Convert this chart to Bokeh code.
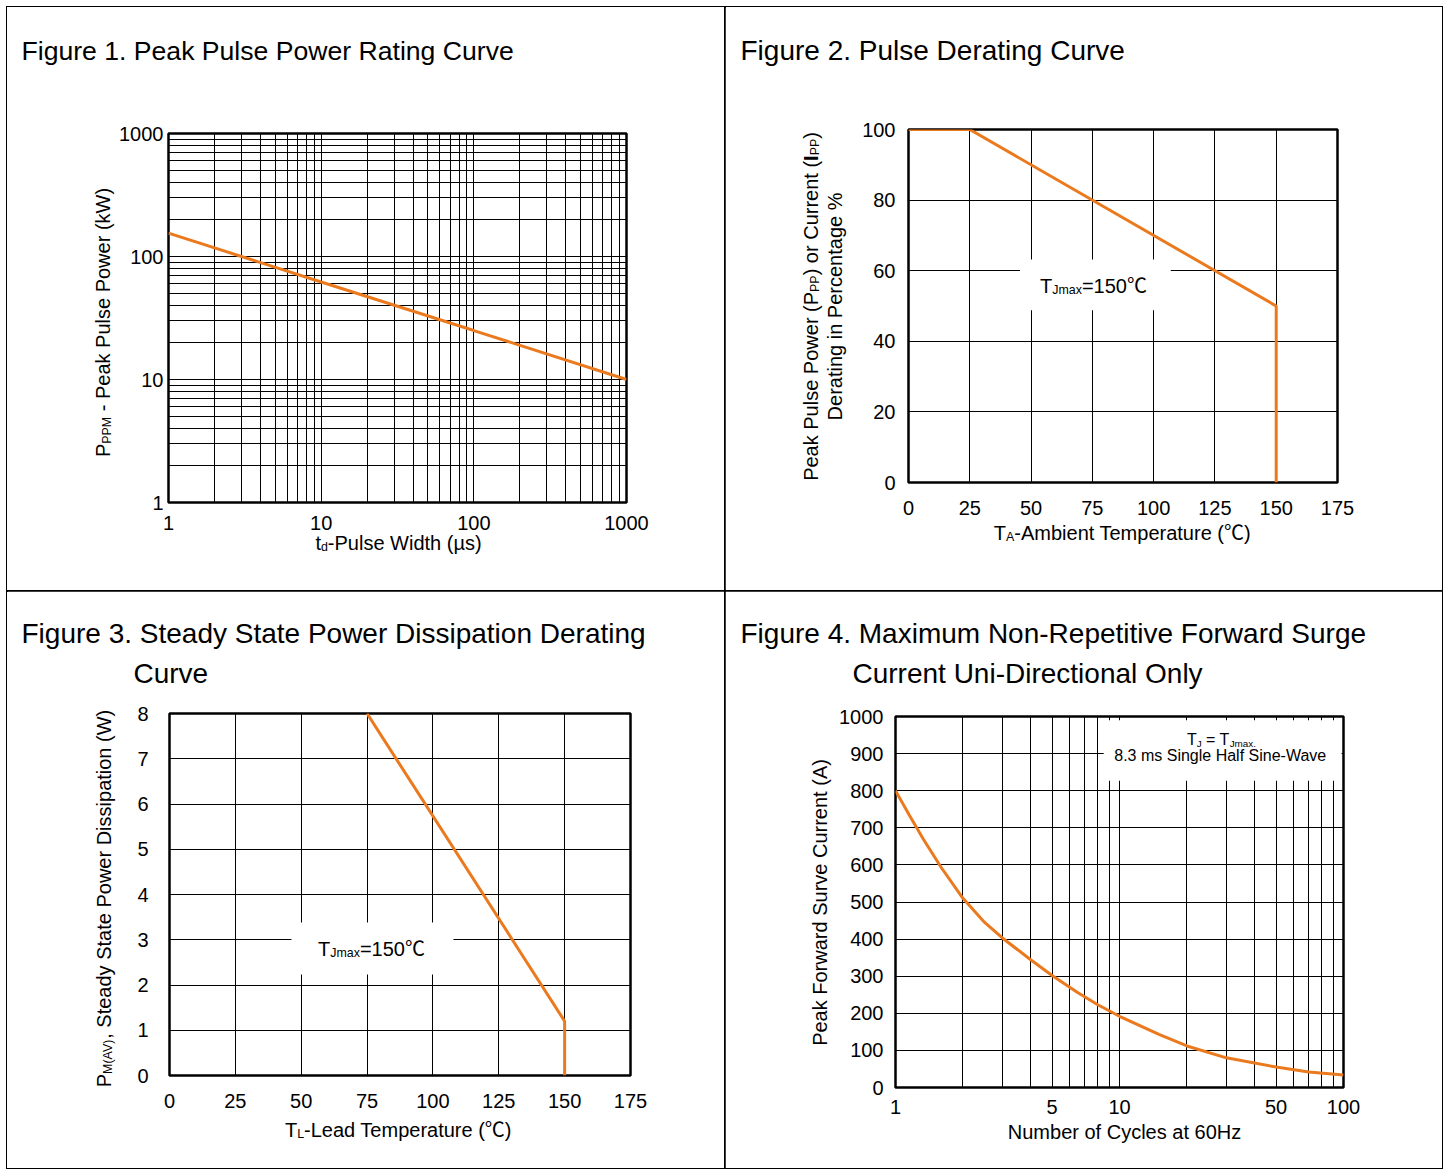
import math
from bokeh.plotting import figure
from bokeh.models import Range1d, FixedTicker, Label, NumeralTickFormatter, BoxAnnotation
from bokeh.layouts import column, row
from bokeh.embed import file_html
from bokeh.resources import INLINE

# ---------------- data ----------------
f1_pulse_width_us = [1, 10, 100, 1000]
f1_peak_power_kw = [155, 62, 25, 10]
f1_ticks = [1, 10, 100, 1000]

f2_temp_c = [0, 25, 150, 150]
f2_derating_pct = [100, 100, 50, 0]
f2_xticks = [0, 25, 50, 75, 100, 125, 150, 175]
f2_yticks = [0, 20, 40, 60, 80, 100]

f3_temp_c = [75, 150, 150]
f3_power_w = [8, 1.2, 0]
f3_xticks = [0, 25, 50, 75, 100, 125, 150, 175]
f3_yticks = [0, 1, 2, 3, 4, 5, 6, 7, 8]

f4_cycles = [1, 1.15, 1.33, 1.6, 2, 2.5, 3, 4, 5, 6.5, 8, 10, 15, 20, 30, 50, 70, 100]
f4_current_a = [800, 735, 670, 593, 510, 445, 403, 345, 302, 256, 223, 192, 143, 112, 80, 55, 42, 34]
f4_xticks = [1, 5, 10, 50, 100]
f4_yticks = [0, 100, 200, 300, 400, 500, 600, 700, 800, 900, 1000]

FONT = "Liberation Sans"
ORANGE = "#EB7A1E"

# Arial / Liberation Sans advance widths (per 1000 em)
CW = {}
CW.update({c: w for c, w in zip("ABCDEFGHIJKLMNOPQRSTUVWXYZ",
          [667, 667, 722, 722, 667, 611, 778, 722, 278, 500, 667, 556, 833, 722, 778, 667, 778, 722, 667, 611, 722, 667, 944, 667, 667, 611])})
CW.update({c: w for c, w in zip("abcdefghijklmnopqrstuvwxyz",
          [556, 556, 500, 556, 556, 278, 556, 556, 222, 222, 500, 222, 833, 556, 556, 556, 556, 333, 500, 278, 556, 500, 722, 500, 500, 500])})
CW.update({d: 556 for d in "0123456789"})
CW.update({" ": 278, "(": 333, ")": 333, "-": 333, ".": 278, ",": 278, "=": 584, "%": 889, "µ": 576, "℃": 1000})


def tw(s, size):
    return sum(CW.get(c, 556) for c in s) * size / 1000.0


def rich(p, origin, fx, fy, pieces, size, vertical=False, align="center"):
    """Place text pieces (n=normal, s=subscript, b=bold); (fx, fy) = baseline anchor in cell px."""
    ox, oy = origin
    sub = 0.62
    fix = 7.0 * size / 20.0
    sizes = [size * sub if st == "s" else size for _, st in pieces]
    total = sum(tw(t, s) for (t, _), s in zip(pieces, sizes))
    start = -total / 2.0 if align == "center" else 0.0
    acc = 0.0
    for (t, st), s in zip(pieces, sizes):
        shift = size * 0.2 if st == "s" else 0.0
        lead = tw(t[:len(t) - len(t.lstrip())], s)
        txt = t.strip()
        if not vertical:
            sx = fx + start + acc + lead
            sy = fy + shift - fix
            ang = 0.0
        else:
            sx = fx + shift - fix
            sy = fy - start - acc - lead
            ang = math.pi / 2
        font = FONT if "℃" not in t else FONT + ", Noto Sans CJK SC"
        p.add_layout(Label(x=ox + sx, y=oy + sy, x_units="canvas", y_units="canvas", text=txt,
                           angle=ang, text_font=font,
                           text_font_size="%.1fpx" % s,
                           text_font_style="bold" if st == "b" else "normal",
                           text_align="left", text_baseline="alphabetic", text_color="black"))
        acc += tw(t, s)


def make(w, h, FL, FR, FT, FB, xr, yr, xtype="linear", ytype="linear"):
    p = figure(width=w, height=h, x_range=Range1d(*xr), y_range=Range1d(*yr),
               x_axis_type=xtype, y_axis_type=ytype, title=None,
               output_backend="svg", toolbar_location=None,
               min_border_left=FL, min_border_right=w - FR, min_border_top=FT, min_border_bottom=h - FB,
               background_fill_color="white", border_fill_color="white")
    p.outline_line_color = "black"
    p.outline_line_width = 2.5
    for ax in (p.xaxis[0], p.yaxis[0]):
        ax.axis_line_color = None
        ax.major_tick_line_color = None
        ax.minor_tick_line_color = None
        ax.major_tick_out = 0
        ax.major_tick_in = 0
        ax.minor_tick_out = 0
        ax.minor_tick_in = 0
        ax.major_label_text_font = FONT
        ax.major_label_text_font_size = "20px"
        ax.major_label_text_color = "black"
    p.grid.grid_line_color = "black"
    p.grid.grid_line_width = 1
    p.grid.grid_line_alpha = 1
    p.styles = {"outline": "1px solid black"}
    return p


LW, RW = 718, 717
TH, BH = 584, 577
C1, C2, C3, C4 = (0, 0), (LW, 0), (0, TH), (LW, TH)

# transparent text layer laid over all four cells (its frame is the whole canvas)
T = figure(width=LW + RW, height=TH + BH, x_range=Range1d(0, LW + RW), y_range=Range1d(0, TH + BH),
           x_axis_type=None, y_axis_type=None, title=None, toolbar_location=None,
           output_backend="svg", min_border=0, margin=(-(TH + BH), 0, 0, 0),
           background_fill_color=None, border_fill_color=None, outline_line_color=None)

# ---------------- Figure 1 ----------------
p1 = make(LW, TH, 161, 619, 126, 495, (1, 1000), (1, 1000), "log", "log")
p1.xaxis.ticker = FixedTicker(ticks=f1_ticks)
p1.yaxis.ticker = FixedTicker(ticks=f1_ticks)
p1.xaxis.formatter = NumeralTickFormatter(format="0")
p1.yaxis.formatter = NumeralTickFormatter(format="0")
p1.xaxis.major_label_standoff = 13
p1.yaxis.major_label_standoff = 5
log_grid = [m * 10 ** e for e in range(0, 3) for m in range(1, 10)]
p1.xgrid.ticker = FixedTicker(ticks=log_grid)
p1.ygrid.ticker = FixedTicker(ticks=log_grid)
p1.line(f1_pulse_width_us, f1_peak_power_kw, line_color=ORANGE, line_width=3)
rich(T, C1, 14, 53, [("Figure 1. Peak Pulse Power Rating Curve", "n")], 26.6, align="left")
rich(T, C1, 102, 315, [("P", "n"), ("PPM", "s"), (" - Peak Pulse Power (kW)", "n")], 20, vertical=True)
rich(T, C1, 391, 542, [("t", "n"), ("d", "s"), ("-Pulse Width (µs)", "n")], 20)

# ---------------- Figure 2 ----------------
p2 = make(RW, TH, 183, 612, 122, 475, (0, 175), (0, 100))
p2.xaxis.ticker = FixedTicker(ticks=f2_xticks)
p2.yaxis.ticker = FixedTicker(ticks=f2_yticks)
p2.xaxis.major_label_standoff = 18
p2.yaxis.major_label_standoff = 13
p2.xgrid.ticker = FixedTicker(ticks=f2_xticks[1:-1])
p2.ygrid.ticker = FixedTicker(ticks=f2_yticks[1:-1])
p2.add_layout(BoxAnnotation(left=45.5, right=107, bottom=48.8, top=63.2, fill_color="white",
                            fill_alpha=1, line_color=None, level="underlay"))
p2.line(f2_temp_c, f2_derating_pct, line_color=ORANGE, line_width=3)
rich(T, C2, 15, 53, [("Figure 2. Pulse Derating Curve", "n")], 28, align="left")
rich(T, C2, 92, 299, [("Peak Pulse Power (P", "n"), ("PP", "s"), (") or Current (", "n"),
                      ("I", "b"), ("PP", "s"), (")", "n")], 20, vertical=True)
rich(T, C2, 116, 299, [("Derating in Percentage %", "n")], 20, vertical=True)
rich(T, C2, 398, 532, [("T", "n"), ("A", "s"), ("-Ambient Temperature (℃)", "n")], 20)
rich(T, C2, 368, 285, [("T", "n"), ("Jmax", "s"), ("=150℃", "n")], 20)

# ---------------- Figure 3 ----------------
p3 = make(LW, BH, 162, 623, 122, 484, (0, 175), (0, 8))
p3.xaxis.ticker = FixedTicker(ticks=f3_xticks)
p3.yaxis.ticker = FixedTicker(ticks=f3_yticks)
p3.xaxis.major_label_standoff = 18
p3.yaxis.major_label_standoff = 21
p3.xgrid.ticker = FixedTicker(ticks=f3_xticks[1:-1])
p3.ygrid.ticker = FixedTicker(ticks=f3_yticks[1:-1])
p3.add_layout(BoxAnnotation(left=46.3, right=107.8, bottom=2.23, top=3.38, fill_color="white",
                            fill_alpha=1, line_color=None, level="underlay"))
p3.line(f3_temp_c, f3_power_w, line_color=ORANGE, line_width=3)
rich(T, C3, 14, 52, [("Figure 3. Steady State Power Dissipation Derating", "n")], 28, align="left")
rich(T, C3, 126, 92, [("Curve", "n")], 28, align="left")
rich(T, C3, 103, 307, [("P", "n"), ("M(AV)", "s"), (", Steady State Power Dissipation (W)", "n")], 20, vertical=True)
rich(T, C3, 392, 545, [("T", "n"), ("L", "s"), ("-Lead Temperature (℃)", "n")], 20)
rich(T, C3, 364, 364, [("T", "n"), ("Jmax", "s"), ("=150℃", "n")], 20)

# ---------------- Figure 4 ----------------
p4 = make(RW, BH, 170, 618, 125, 496, (1, 100), (0, 1000), "log", "linear")
p4.xaxis.ticker = FixedTicker(ticks=f4_xticks)
p4.yaxis.ticker = FixedTicker(ticks=f4_yticks)
p4.xaxis.formatter = NumeralTickFormatter(format="0")
p4.xaxis.major_label_standoff = 12
p4.yaxis.major_label_standoff = 12
p4.xgrid.ticker = FixedTicker(ticks=[m * 10 ** e for e in range(0, 2) for m in range(1, 10)])
p4.ygrid.ticker = FixedTicker(ticks=f4_yticks[1:-1])
p4.add_layout(BoxAnnotation(left=8.5, right=98, bottom=827, top=990, fill_color="white",
                            fill_alpha=1, line_color=None, level="underlay"))
p4.line(f4_cycles, f4_current_a, line_color=ORANGE, line_width=3)
rich(T, C4, 15, 52, [("Figure 4. Maximum Non-Repetitive Forward Surge", "n")], 28, align="left")
rich(T, C4, 127, 92, [("Current Uni-Directional Only", "n")], 28, align="left")
rich(T, C4, 101, 311, [("Peak Forward Surve Current (A)", "n")], 20, vertical=True)
rich(T, C4, 399, 547, [("Number of Cycles at 60Hz", "n")], 20)
rich(T, C4, 496, 154, [("T", "n"), ("J", "s"), (" = T", "n"), ("Jmax.", "s")], 16)
rich(T, C4, 495, 170, [("8.3 ms Single Half Sine-Wave", "n")], 16)

# each plot wrapped in its own column so that the rows do not align their frames
layout = column(row(column(p1), column(p2)), row(column(p3), column(p4)), T, margin=(7, 0, 0, 7))
open("out.html", "w").write(file_html(layout, INLINE))
